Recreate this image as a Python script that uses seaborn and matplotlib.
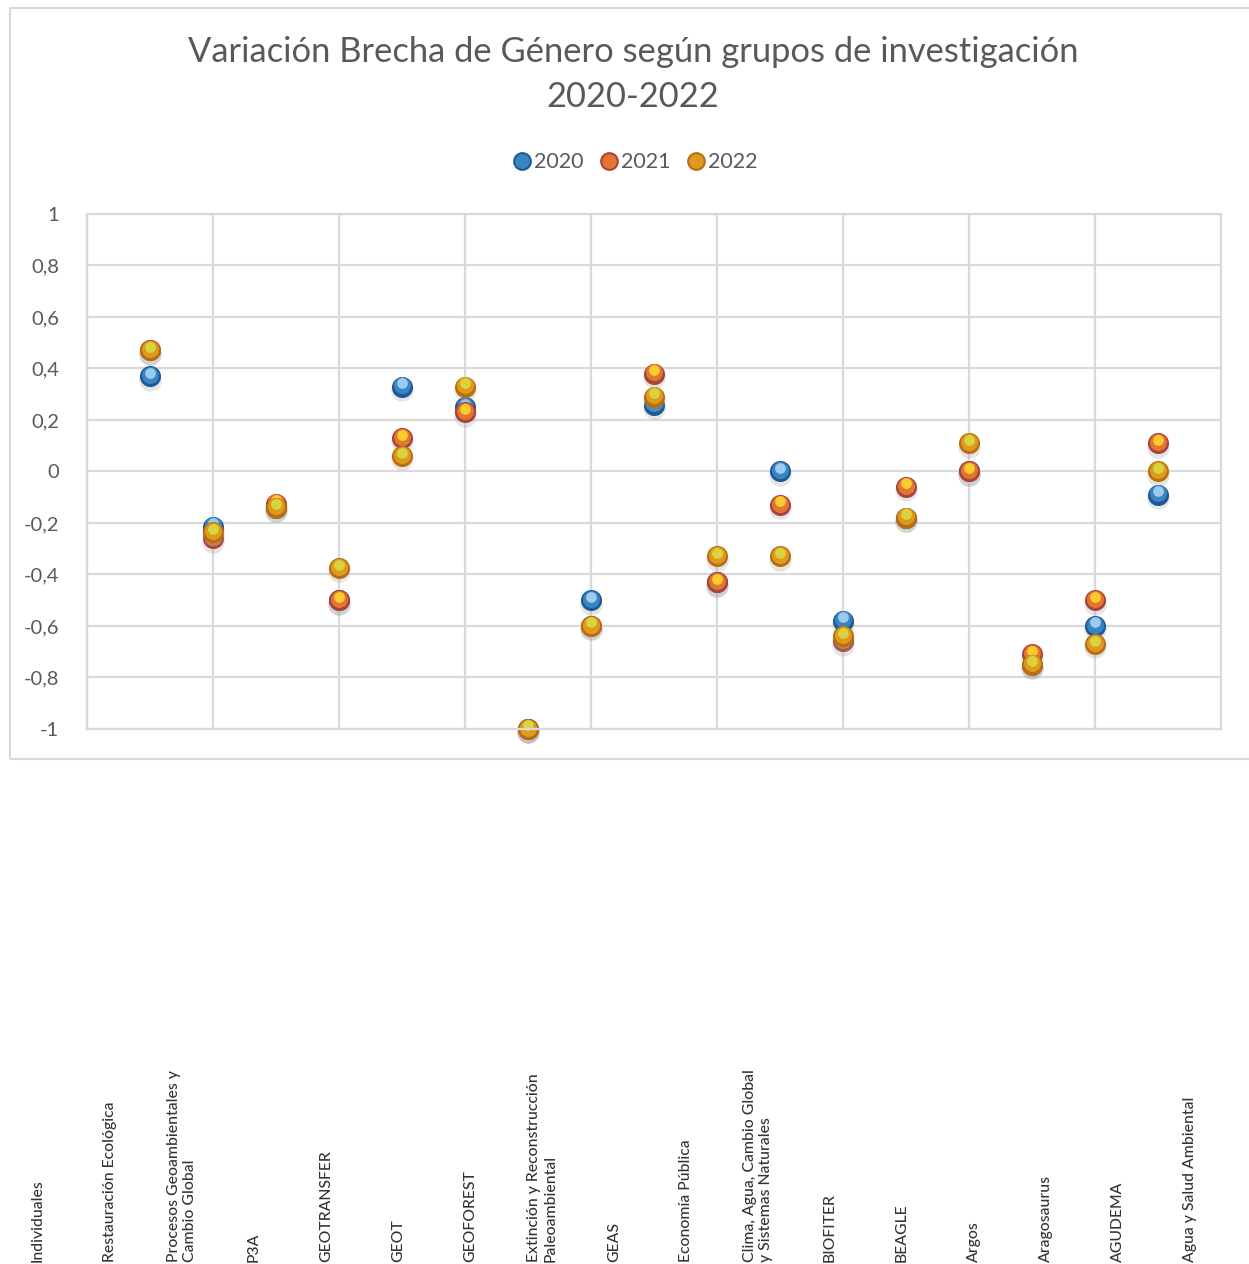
import numpy as np
import pandas as pd
import matplotlib
matplotlib.use("Agg")
import matplotlib.pyplot as plt
import seaborn as sns
from matplotlib.lines import Line2D
from matplotlib.patches import Rectangle
from matplotlib.ticker import FuncFormatter
from matplotlib.transforms import ScaledTranslation

# groups in chart order
grupos = [
    "Individuales",
    "Restauración Ecológica",
    "Procesos Geoambientales y\nCambio Global",
    "P3A",
    "GEOTRANSFER",
    "GEOT",
    "GEOFOREST",
    "Extinción y Reconstrucción\nPaleoambiental",
    "GEAS",
    "Economía Pública",
    "Clima, Agua, Cambio Global\ny Sistemas Naturales",
    "BIOFITER",
    "BEAGLE",
    "Argos",
    "Aragosaurus",
    "AGUDEMA",
    "Agua y Salud Ambiental",
]
posicion = list(range(1, 18))

brecha_2020 = [0.37, -0.215, -0.14, -0.50, 0.33, 0.25, -1.0, -0.50, 0.26, -0.43, 0.0,
               -0.58, -0.18, 0.0, -0.75, -0.60, -0.09]
brecha_2021 = [0.47, -0.26, -0.125, -0.50, 0.13, 0.23, -1.0, -0.60, 0.38, -0.43, -0.13,
               -0.66, -0.06, 0.0, -0.71, -0.50, 0.11]
brecha_2022 = [0.47, -0.235, -0.14, -0.375, 0.06, 0.33, -1.0, -0.60, 0.29, -0.33, -0.33,
               -0.64, -0.18, 0.11, -0.75, -0.67, 0.0]

anios = ["2020", "2021", "2022"]

# sphere look: rim, body, highlight
colores = {
    "2020": ("#1B5A96", "#3B84C4", "#9CCBEE"),
    "2021": ("#A9443D", "#E2752F", "#F8CC2C"),
    "2022": ("#B86E12", "#DF9A1E", "#D8D43E"),
}

df = pd.DataFrame({
    "pos": posicion * 3,
    "valor": brecha_2020 + brecha_2021 + brecha_2022,
    "anio": sum([[a] * len(posicion) for a in anios], []),
})

sns.set_theme(style="white")
plt.rcParams["font.family"] = ["Lato", "DejaVu Sans"]

fig = plt.figure(figsize=(12.49, 12.64), dpi=100)
ax = fig.add_axes([0.0697, 0.4233, 0.9079, 0.4074])

gris = "#D9D9D9"
for a in anios:
    d = df[df["anio"] == a]
    rim, body, hi = colores[a]
    # soft shadow
    sns.scatterplot(data=d, x="pos", y="valor", s=260, color="#9A9A9A", alpha=0.25,
                    linewidth=0, ax=ax, clip_on=False, legend=False)
    ax.collections[-1].set_offset_transform(
        ax.transData + ScaledTranslation(0, -2.5 / 72, fig.dpi_scale_trans))
    sns.scatterplot(data=d, x="pos", y="valor", s=230, color=rim, linewidth=0,
                    ax=ax, clip_on=False, legend=False)
    sns.scatterplot(data=d, x="pos", y="valor", s=150, color=body, linewidth=0,
                    ax=ax, clip_on=False, legend=False)
    ax.collections[-1].set_offset_transform(
        ax.transData + ScaledTranslation(0, 1.0 / 72, fig.dpi_scale_trans))
    sns.scatterplot(data=d, x="pos", y="valor", s=60, color=hi, linewidth=0,
                    ax=ax, clip_on=False, legend=False)
    ax.collections[-1].set_offset_transform(
        ax.transData + ScaledTranslation(0, 2.5 / 72, fig.dpi_scale_trans))


def fmt_coma(v, p):
    v = round(v, 1)
    if abs(v) < 1e-9:
        return "0"
    return ("%g" % v).replace(".", ",")


ax.set_xlim(0, 18)
ax.set_ylim(-1, 1)
ax.set_xticks(np.arange(0, 19, 2))
ax.set_yticks(np.arange(-1, 1.01, 0.2))
ax.xaxis.set_ticklabels([])
ax.yaxis.set_major_formatter(FuncFormatter(fmt_coma))
ax.tick_params(axis="y", length=0, pad=20, labelsize=14.5, labelcolor="#595959")
ax.tick_params(axis="x", length=0)
ax.grid(True, color=gris, linewidth=1.6)
ax.set_axisbelow(True)
for sp in ax.spines.values():
    sp.set_color(gris)
    sp.set_linewidth(1.6)
ax.set_xlabel("")
ax.set_ylabel("")

# title
fig.text(0.507, 0.9408, "Variación Brecha de Género según grupos de investigación\n2020-2022",
         ha="center", va="center", fontsize=24.8, color="#595959", linespacing=1.5)

# legend
handles = [Line2D([0], [0], marker="o", linestyle="", markersize=12,
                  markerfacecolor=colores[a][1], markeredgecolor=colores[a][0],
                  markeredgewidth=1.5, label=a) for a in anios]
fig.legend(handles=handles, loc="center", bbox_to_anchor=(0.508, 0.8718), ncol=3,
           frameon=False, fontsize=15.5, handletextpad=0.05, columnspacing=0.7,
           handlelength=1.0, labelcolor="#595959")

# chart border
fig.patches.append(Rectangle((10 / 1249, 1 - 759 / 1264), 1.2, (759 - 8) / 1264,
                             transform=fig.transFigure, fill=False,
                             edgecolor=gris, linewidth=1.5))

# category labels, detached at bottom of the image
ax_lab = fig.add_axes([2 / 1249, 2 / 1264, 1224 / 1249, 0.2])
ax_lab.set_xlim(-0.5, len(grupos) - 0.5)
ax_lab.set_ylim(0, 1)
ax_lab.axis("off")
for i, g in enumerate(grupos):
    ax_lab.text(i, 0, g, rotation=90, ha="center", va="bottom", fontsize=11.3,
                color="#333333", weight="medium", multialignment="left", linespacing=1.25)

fig.savefig("out.png", dpi=100)
